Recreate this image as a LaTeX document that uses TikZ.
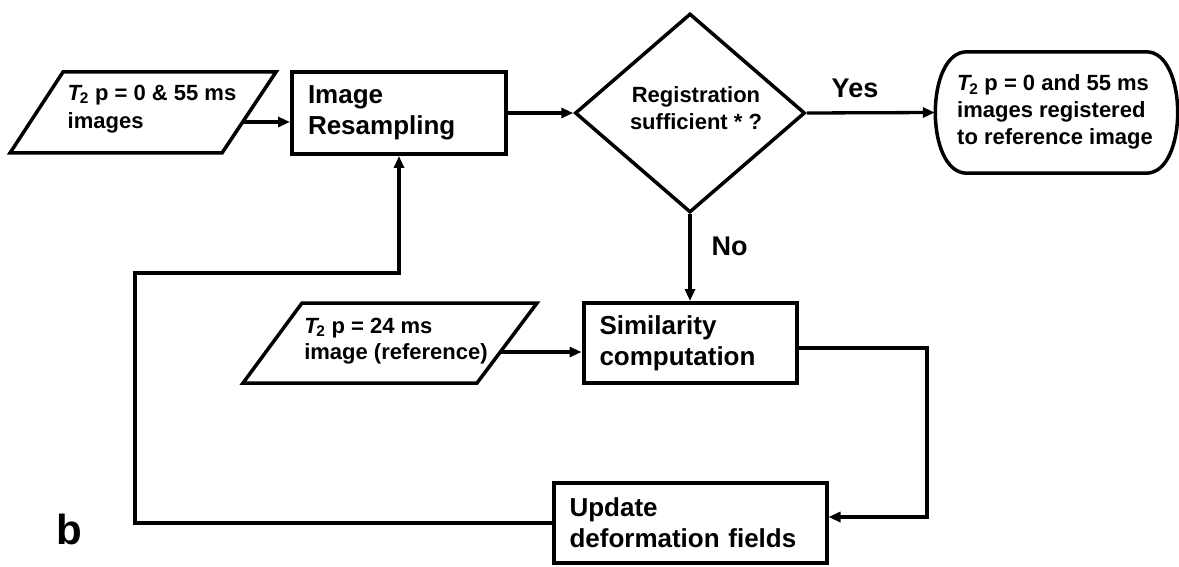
\documentclass[tikz,border=0pt]{standalone}
\usepackage{fontspec}
\setmainfont{Liberation Sans}
\usetikzlibrary{shapes.geometric,arrows.meta,calc}
\newcommand{\Ttwo}{{\itshape T}\kern-0.06em\textsubscript{2}}
\begin{document}
\begin{tikzpicture}[x=1pt,y=-1pt,
  ln/.style={line width=3.5pt},
  arr/.style={line width=3.3pt,-{Triangle[length=12pt,width=10pt]}},
  boxs/.style={draw,line width=4pt,inner xsep=16pt,inner ysep=0pt,align=left,
    font=\bfseries\fontsize{26}{31}\selectfont},
  small/.style={font=\bfseries\fontsize{22}{27}\selectfont,align=left,inner sep=0pt},
  lbl/.style={font=\bfseries\fontsize{27}{32}\selectfont,inner sep=0pt}]
\useasboundingbox (0,0) rectangle (1179,567);

% process boxes
\node[boxs,text width=182pt,minimum height=82pt] (res) at (399,113) {Image\\Resampling};
\node[boxs,text width=181pt,minimum height=80pt] (sim) at (690,343) {Similarity\\computation};
\node[boxs,text width=241pt,minimum height=80pt] (upd) at (690,523) {Update\\deformation fields};

% decision
\node[draw,diamond,line width=3.5pt,minimum width=230pt,minimum height=199pt,inner sep=0pt] (dia) at (690,113) {};
\node[small,align=center] (diat) at (696,108) {Registration\\sufficient * ?};

% terminal
\node[minimum width=243pt,minimum height=121pt,inner sep=0pt] (term) at (1056.5,112.5) {};
\draw[ln] ($(term.north west)+(32,0)$) -- ($(term.north east)+(-32,0)$)
  .. controls ($(term.north east)+(10,0)$) and ($(term.south east)+(10,0)$) .. ($(term.south east)+(-32,0)$)
  -- ($(term.south west)+(32,0)$)
  .. controls ($(term.south west)+(-10,0)$) and ($(term.north west)+(-10,0)$) .. cycle;
\node[small] (termt) at (1055,112) {\Ttwo{} p = 0 and 55 ms\\images registered\\to reference image};

% input parallelogram 1
\coordinate (p1tl) at (63,72);
\coordinate (p1tr) at (276,72);
\coordinate (p1br) at (222,153);
\coordinate (p1bl) at (10,153);
\draw[ln] (p1tl) -- (p1tr) -- (p1br) -- (p1bl) -- cycle;
\node[small,font=\bfseries\fontsize{22}{28}\selectfont] (p1) at (152,109) {\Ttwo{} p = 0 \& 55 ms\\images};
\coordinate (p1out) at ($(p1tr)!0.617!(p1br)$);

% input parallelogram 2
\coordinate (p2tl) at (302,303);
\coordinate (p2tr) at (537,303);
\coordinate (p2br) at (477,383);
\coordinate (p2bl) at (243,383);
\draw[ln] (p2tl) -- (p2tr) -- (p2br) -- (p2bl) -- cycle;
\node[small,font=\bfseries\fontsize{22}{26}\selectfont] (p2) at (396,341) {\Ttwo{} p = 24 ms\\image (reference)};
\coordinate (p2out) at ($(p2tr)!0.6125!(p2br)$);

% labels
\node[lbl] (yes) at (855,88) {Yes};
\node[lbl] (no) at (729.5,246.5) {No};
\node[font=\bfseries\fontsize{42}{48}\selectfont,inner sep=0pt] (b) at (69.5,529.5) {b};

% connectors
\draw[arr] (p1out) -- (p1out -| res.west);
\draw[arr] (res.east) -- (dia.west);
\draw[arr] (dia.east) -- (term.west);
\draw[arr] (dia.south) -- (sim.north);
\draw[arr] (p2out) -- (p2out -| sim.west);
\coordinate (rloop) at (927,430);
\draw[arr] ([yshift=-5pt]sim.east) -| (rloop) |- ([yshift=6pt]upd.east);
\coordinate (lloop) at (135,400);
\coordinate (ltop) at (399,273);
\draw[arr] (upd.west) -| (lloop) |- (ltop) -- (res.south);
\end{tikzpicture}
\end{document}
